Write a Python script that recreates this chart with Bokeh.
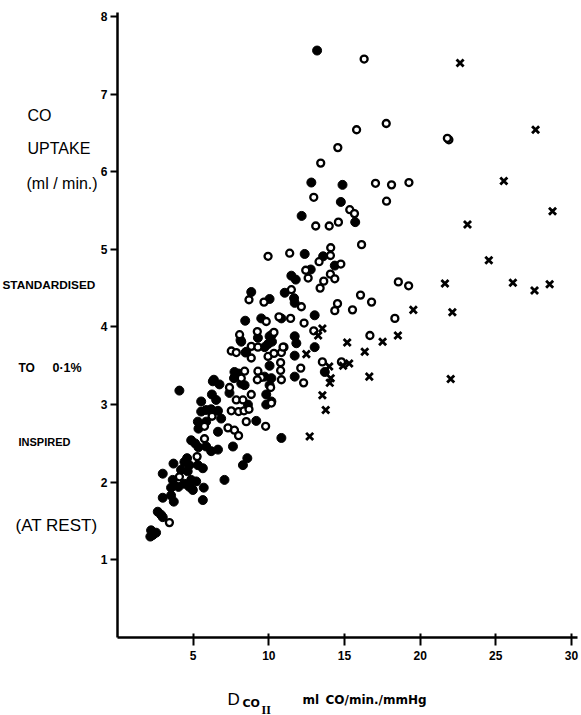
from bokeh.plotting import figure
from bokeh.models import Range1d, FixedTicker
from bokeh.layouts import row, column
from bokeh.core.properties import value
from bokeh.embed import file_html
from bokeh.resources import INLINE

# ---- data ----
filled_x = [13.19, 12.81, 14.87, 14.76, 12.17, 15.71, 12.37, 13.59, 14.36, 12.77, 11.49, 11.78,
            11.05, 11.67, 11.71, 13.03, 10.83, 11.71, 11.82, 13.03, 11.71, 13.7, 11.71, 10.05,
            10.17, 9.83, 9.83, 10.83, 8.84, 10.05, 8.44, 9.5, 8.13, 9.28, 10.05, 10.21, 9.95,
            8.46, 7.73, 8.0, 9.72, 6.37, 4.09, 5.53, 6.3, 6.74, 6.24, 6.52, 7.4, 8.18, 8.4, 7.7,
            10.05, 10.17, 8.62, 5.53, 5.86, 6.19, 6.64, 5.31, 5.86, 6.85, 9.17, 5.35, 6.64,
            4.87, 5.13, 5.35, 5.86, 6.19, 6.64, 7.63, 4.6, 4.42, 4.75, 5.31, 5.64, 8.58, 8.29,
            3.7, 2.99, 4.2, 4.64, 3.65, 3.76, 3.54, 4.03, 4.42, 4.87, 4.98, 4.75, 5.2, 5.7, 5.64,
            7.07, 2.99, 3.72, 3.54, 2.66, 2.88, 2.99, 2.22, 2.55, 2.17, 2.33, 8.18, 8.51, 9.72,
            10.21]
filled_y = [7.56, 5.86, 5.83, 5.61, 5.43, 5.35, 4.94, 4.91, 4.79, 4.74, 4.66, 4.61,
            4.44, 4.37, 4.31, 4.15, 4.11, 3.88, 3.79, 3.74, 3.63, 3.42, 3.36, 3.50,
            3.34, 3.13, 3.0, 2.57, 4.45, 4.36, 4.08, 4.11, 3.83, 3.86, 3.88, 3.81, 3.78,
            3.67, 3.42, 3.40, 3.36, 3.32, 3.18, 3.04, 3.30, 3.26, 3.13, 3.06, 3.15, 3.27, 3.25, 3.34,
            3.25, 3.04, 3.0, 2.91, 2.93, 2.94, 2.92, 2.78, 2.78, 2.82, 2.79, 2.69, 2.65,
            2.54, 2.50, 2.45, 2.46, 2.40, 2.42, 2.46, 2.31, 2.26, 2.22, 2.22, 2.18, 2.31, 2.22,
            2.24, 2.11, 2.16, 2.14, 2.03, 1.96, 1.93, 1.94, 1.98, 2.03, 1.90, 1.94, 2.01, 1.93, 1.77,
            2.03, 1.80, 1.75, 1.83, 1.62, 1.58, 1.55, 1.38, 1.35, 1.30, 1.32, 3.81, 3.68, 3.74,
            3.90]

open_x = [16.3, 17.76, 15.8, 14.56, 13.43, 17.05, 18.11, 19.26, 12.97, 17.78, 15.35, 15.66,
          13.1, 13.99, 14.6, 21.9, 21.8, 16.13, 14.09, 11.38, 14.07, 13.32, 14.76, 12.44,
          14.07, 14.36, 12.6, 13.63, 13.39, 18.56, 19.24, 11.49, 12.15, 16.06, 14.54, 16.79,
          14.36, 15.53, 18.33, 11.44, 12.33, 12.97, 16.68, 11.0, 10.83, 12.11, 13.54, 14.8,
          10.78, 10.78, 12.3, 10.83, 9.5, 10.12, 10.17, 9.79, 9.95, 8.69, 9.68, 9.83, 10.67,
          8.07, 9.24, 10.34, 7.52, 7.85, 8.84, 9.28, 9.95, 10.94, 8.84, 10.34, 8.4, 9.28, 9.24,
          8.18, 7.4, 7.85, 8.29, 8.84, 7.52, 8.0, 8.36, 8.69, 6.25, 5.75, 7.3, 7.73, 8.0, 8.51,
          5.75, 5.26, 4.09, 3.43]
open_y = [7.45, 6.62, 6.54, 6.31, 6.11, 5.85, 5.83, 5.86, 5.67, 5.62, 5.51, 5.46,
          5.30, 5.30, 5.35, 6.41, 6.43, 5.06, 5.02, 4.95, 4.92, 4.84, 4.81, 4.73,
          4.68, 4.62, 4.63, 4.59, 4.50, 4.58, 4.53, 4.48, 4.26, 4.41, 4.30, 4.32,
          4.21, 4.22, 4.11, 4.11, 4.05, 3.95, 3.89, 3.74, 3.67, 3.47, 3.55, 3.55,
          3.54, 3.44, 3.28, 3.32, 3.35, 3.22, 3.02, 2.72, 4.91, 4.35, 4.32, 4.07, 4.13,
          3.90, 3.94, 3.93, 3.69, 3.67, 3.75, 3.74, 3.62, 3.74, 3.60, 3.66, 3.43, 3.43, 3.32,
          3.34, 3.22, 3.06, 3.06, 3.13, 2.92, 2.91, 2.92, 2.94, 2.85, 2.72, 2.70, 2.67, 2.60, 2.78,
          2.56, 2.33, 2.07, 1.48]

cross_x = [22.64, 27.63, 25.53, 28.75, 23.13, 24.54, 21.64, 26.13, 27.56, 28.56, 19.55, 22.13,
           22.02, 18.53, 17.52, 15.18, 16.34, 12.48, 13.54, 13.26, 13.99, 14.91, 15.31, 14.09,
           16.64, 14.03, 13.54, 13.76, 12.7]
cross_y = [7.40, 6.54, 5.88, 5.49, 5.32, 4.86, 4.56, 4.57, 4.47, 4.55, 4.22, 4.19,
           3.33, 3.89, 3.81, 3.80, 3.68, 3.65, 3.98, 3.89, 3.49, 3.50, 3.53, 3.34,
           3.36, 3.28, 3.12, 2.93, 2.59]

x_ticks = [5, 10, 15, 20, 25, 30]
y_ticks = [1, 2, 3, 4, 5, 6, 7, 8]

y_title_lines = ["CO", "UPTAKE", "(ml / min.)", "STANDARDISED", "TO", "0·1%", "INSPIRED", "(AT REST)"]
x_title_parts = ["D", "CO", "II", "ml", "CO/min./mmHg"]

# ---- layout geometry (page pixels) ----
W, H = 581, 715
LW = 97             # left text panel width
BH = 30             # bottom text panel height
MW = W - LW         # main figure width
MH = H - BH         # main figure height
AX_LEFT = 20        # room for the y axis inside the main figure
TOP = 12
AX_BOTTOM = MH - 637  # x-axis line at page y=637
RIGHT = 4
FRAME_L = LW + AX_LEFT
FRAME_R = W - RIGHT

p = figure(width=MW, height=MH, x_range=Range1d(0, 30.4), y_range=Range1d(0, 8.05),
           output_backend="svg", toolbar_location=None,
           min_border_left=AX_LEFT, min_border_right=RIGHT,
           min_border_top=TOP, min_border_bottom=AX_BOTTOM)
p.outline_line_color = None
p.grid.visible = False

for ax in (p.xaxis[0], p.yaxis[0]):
    ax.axis_line_width = 2.5
    ax.axis_line_color = "black"
    ax.major_tick_line_width = 2
    ax.major_tick_line_color = "black"
    ax.minor_tick_line_color = None
    ax.major_label_text_font = "Liberation Sans"
    ax.major_label_text_font_style = "bold"
    ax.major_label_text_font_size = "12px"
    ax.major_label_text_color = "black"

p.xaxis.ticker = FixedTicker(ticks=x_ticks)
p.yaxis.ticker = FixedTicker(ticks=y_ticks)
p.xaxis.major_tick_in = 4
p.xaxis.major_tick_out = 8
p.xaxis.major_label_standoff = 5
p.yaxis.major_tick_in = 0
p.yaxis.major_tick_out = 7
p.yaxis.major_label_standoff = 3

p.scatter(filled_x, filled_y, marker="circle", size=9, fill_color="black", line_color="black")
p.scatter(open_x, open_y, marker="circle", size=7, fill_color="white", line_color="black",
          line_width=2.3)
p.scatter(cross_x, cross_y, marker="x", size=10, line_color="black", line_width=2.8)


def text_panel(width, height, x0, x1, y0, y1):
    f = figure(width=width, height=height, x_range=Range1d(x0, x1),
               y_range=Range1d(y1, y0), output_backend="svg", toolbar_location=None,
               x_axis_type=None, y_axis_type=None, min_border=0)
    f.outline_line_color = None
    f.grid.visible = False
    return f


def put(f, txt, px, py, size, font="Liberation Sans", style="normal"):
    f.text(x=[px], y=[py], text=[txt], text_font=value(font), text_font_style=style,
           text_font_size=size, text_align="left", text_baseline="middle", text_color="black")


# left panel: the y-axis title, line by line (coordinates are page pixels)
lf = text_panel(LW, H, 0, LW, 0, H)
put(lf, y_title_lines[0], 27, 115, "16px")
put(lf, y_title_lines[1], 27, 148, "16px")
put(lf, y_title_lines[2], 26, 183, "16px")
put(lf, y_title_lines[3], 2, 284, "11.8px", style="bold")
put(lf, y_title_lines[4], 18, 367, "12px", style="bold")
put(lf, y_title_lines[5], 52, 367, "12.5px", style="bold")
put(lf, y_title_lines[6], 18, 441, "11px", style="bold")
put(lf, y_title_lines[7], 15, 525, "17px")

# bottom panel: the x-axis title; its frame gets aligned with the main frame
bf = text_panel(MW, BH, FRAME_L, FRAME_R, MH, H)
bf.min_border_left = AX_LEFT
bf.min_border_right = RIGHT
put(bf, x_title_parts[0], 227, 699, "17px")
put(bf, x_title_parts[1], 242, 703, "11px", font="DejaVu Sans", style="bold")
put(bf, x_title_parts[2], 261, 709, "12px", font="Liberation Serif", style="bold")
put(bf, x_title_parts[3], 302, 699, "12px", font="DejaVu Sans", style="bold")
put(bf, x_title_parts[4], 325, 699, "12px", font="DejaVu Sans", style="bold")

layout = row(lf, column(p, bf, spacing=0), spacing=0)

open("out.html", "w").write(file_html(layout, INLINE))
